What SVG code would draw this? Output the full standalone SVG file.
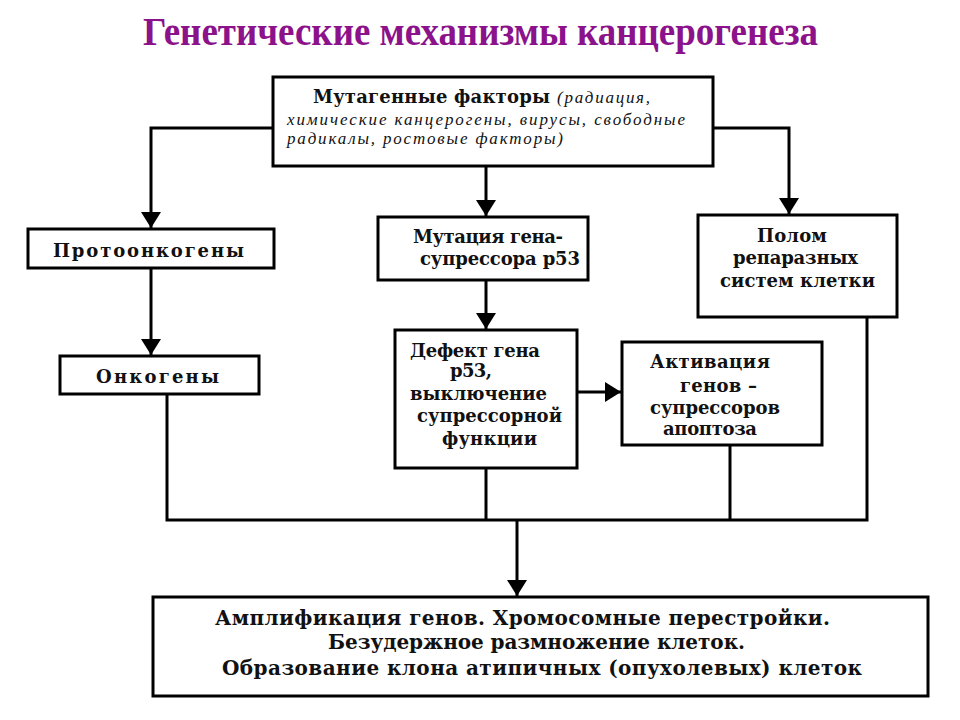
<svg xmlns="http://www.w3.org/2000/svg" width="960" height="720" viewBox="0 0 960 720">
<style>
.box{fill:#fff;stroke:#000;stroke-width:3}
.t{font-family:"DejaVu Serif","Liberation Serif",serif;font-weight:bold;font-size:18px;fill:#111}
.it{font-family:"Liberation Serif","DejaVu Serif",serif;font-style:italic;font-weight:normal;font-size:17px;fill:#111}
.b{font-family:"DejaVu Serif","Liberation Serif",serif;font-weight:bold;font-size:20px;fill:#111}
.title{font-family:"Liberation Serif","DejaVu Serif",serif;font-weight:bold;font-size:41px;fill:#8B128B}
.c{fill:none;stroke:#000;stroke-width:3}
</style>
<defs>
<marker id="ah" viewBox="0 0 16 20" refX="16" refY="10" markerWidth="16" markerHeight="20" markerUnits="userSpaceOnUse" orient="auto">
<path d="M0,0 L16,10 L0,20 z" fill="#000"/>
</marker>
</defs>
<rect width="960" height="720" fill="#fff"/>
<text class="title" x="143" y="45" textLength="675" lengthAdjust="spacingAndGlyphs">Генетические механизмы канцерогенеза</text>

<g id="connectors">
<path class="c" d="M273,128 H151 V228" marker-end="url(#ah)"/>
<path class="c" d="M713,128 H789 V214" marker-end="url(#ah)"/>
<path class="c" d="M486,166 V216" marker-end="url(#ah)"/>
<path class="c" d="M486,280 V329" marker-end="url(#ah)"/>
<path class="c" d="M151,268 V355" marker-end="url(#ah)"/>
<path class="c" d="M577,392 H621" marker-end="url(#ah)"/>
<path class="c" d="M167,394 V520 H867 V317"/>
<path class="c" d="M486,468 V520"/>
<path class="c" d="M730,445 V520"/>
<path class="c" d="M517,520 V596" marker-end="url(#ah)"/>
</g>

<g id="mutagens">
<rect class="box" x="273" y="77" width="440" height="89"/>
<text x="313" y="103"><tspan class="t" textLength="237" lengthAdjust="spacing">Мутагенные факторы</tspan><tspan class="it" x="557" textLength="93" lengthAdjust="spacing">(радиация,</tspan></text>
<text class="it" x="287" y="125" textLength="398" lengthAdjust="spacing">химические канцерогены, вирусы, свободные</text>
<text class="it" x="287" y="144" textLength="276" lengthAdjust="spacing">радикалы, ростовые факторы)</text>
</g>

<g id="protooncogenes">
<rect class="box" x="28" y="229" width="246" height="39"/>
<text class="t" x="53" y="257" textLength="191" lengthAdjust="spacing">Протоонкогены</text>
</g>

<g id="oncogenes">
<rect class="box" x="60" y="356" width="199" height="38"/>
<text class="t" x="96" y="383" textLength="123" lengthAdjust="spacing">Онкогены</text>
</g>

<g id="p53mutation">
<rect class="box" x="378" y="217" width="210" height="63"/>
<text class="t" x="413" y="243" textLength="150" lengthAdjust="spacing">Мутация гена-</text>
<text class="t" x="420" y="265" textLength="160" lengthAdjust="spacing">супрессора р53</text>
</g>

<g id="p53defect">
<rect class="box" x="395" y="330" width="182" height="138"/>
<text class="t" x="410" y="357" textLength="130" lengthAdjust="spacing">Дефект гена</text>
<text class="t" x="450" y="377" textLength="42" lengthAdjust="spacing">р53,</text>
<text class="t" x="410" y="400" textLength="137" lengthAdjust="spacing">выключение</text>
<text class="t" x="417" y="422" textLength="145" lengthAdjust="spacing">супрессорной</text>
<text class="t" x="442" y="445" textLength="95" lengthAdjust="spacing">функции</text>
</g>

<g id="apoptosis">
<rect class="box" x="622" y="342" width="200" height="103"/>
<text class="t" x="650" y="368" textLength="120" lengthAdjust="spacing">Активация</text>
<text class="t" x="680" y="392" textLength="77" lengthAdjust="spacing">генов –</text>
<text class="t" x="650" y="414" textLength="130" lengthAdjust="spacing">супрессоров</text>
<text class="t" x="663" y="435" textLength="94" lengthAdjust="spacing">апоптоза</text>
</g>

<g id="repair">
<rect class="box" x="698" y="215" width="199" height="102"/>
<text class="t" x="757" y="242" textLength="70" lengthAdjust="spacing">Полом</text>
<text class="t" x="733" y="264" textLength="125" lengthAdjust="spacing">репаразных</text>
<text class="t" x="720" y="287" textLength="155" lengthAdjust="spacing">систем клетки</text>
</g>

<g id="result">
<rect class="box" x="153" y="597" width="775" height="99"/>
<text class="b" x="215" y="625" textLength="615" lengthAdjust="spacing">Амплификация генов. Хромосомные перестройки.</text>
<text class="b" x="328" y="649" textLength="417" lengthAdjust="spacing">Безудержное размножение клеток.</text>
<text class="b" x="222" y="675" textLength="640" lengthAdjust="spacing">Образование клона атипичных (опухолевых) клеток</text>
</g>
</svg>
